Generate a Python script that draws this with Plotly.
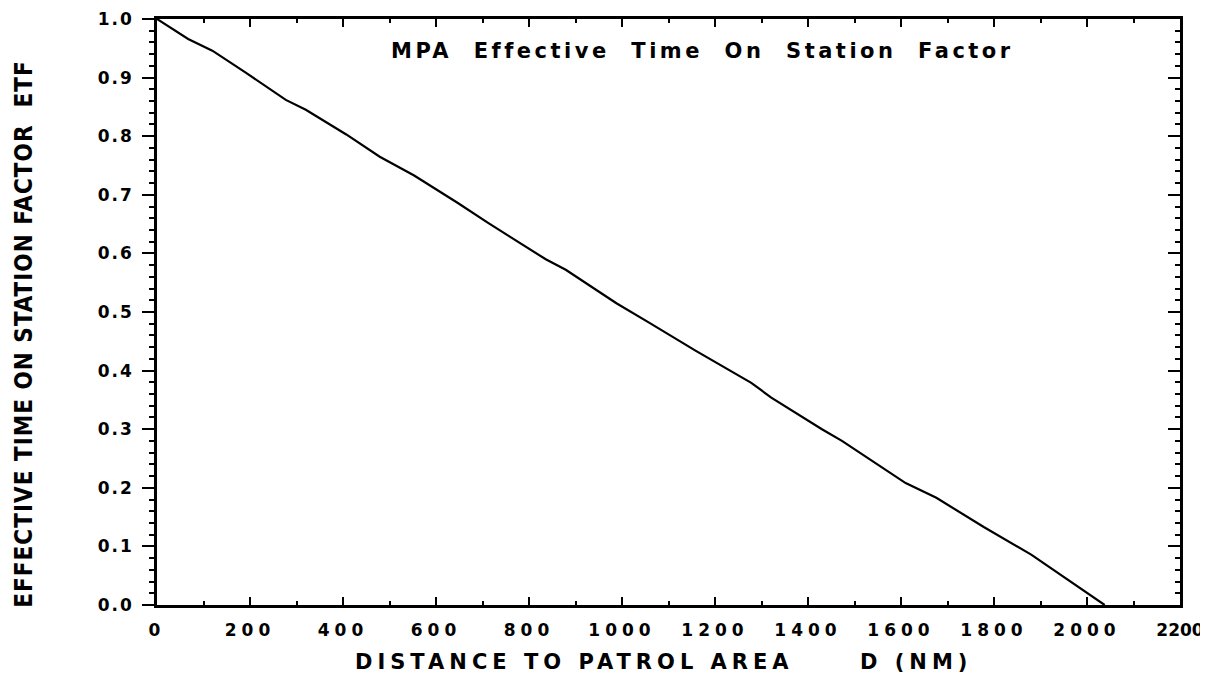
import plotly.graph_objects as go

# Data
distance_nm = [0, 67, 119, 190, 277, 320, 407, 479, 553, 647, 712, 836, 879, 988,
               1060, 1158, 1278, 1321, 1430, 1473, 1610, 1676, 1778, 1843, 1880, 2038]
etf = [1.0, 0.966, 0.946, 0.909, 0.862, 0.845, 0.803, 0.765, 0.733, 0.686, 0.652,
       0.590, 0.572, 0.515, 0.481, 0.434, 0.379, 0.354, 0.300, 0.280, 0.208, 0.183,
       0.133, 0.103, 0.086, 0.0]

x_tick_vals = [0, 200, 400, 600, 800, 1000, 1200, 1400, 1600, 1800, 2000, 2200]
x_tick_labels = ["0", "200", "400", "600", "800", "1000", "1200", "1400", "1600", "1800", "2000", "2200"]
y_tick_vals = [0.0, 0.1, 0.2, 0.3, 0.4, 0.5, 0.6, 0.7, 0.8, 0.9, 1.0]
y_tick_labels = ["0.0", "0.1", "0.2", "0.3", "0.4", "0.5", "0.6", "0.7", "0.8", "0.9", "1.0"]

title_text = "MPA  Effective  Time  On  Station  Factor"
x_title = "DISTANCE TO PATROL AREA"
x_title_unit = "D (NM)"
y_title = "EFFECTIVE TIME ON STATION FACTOR\u00a0\u00a0ETF"


def spaced(t, px):
    return '<span style="letter-spacing:%spx"><b>%s</b></span>' % (px, t)


# last label sits at the right edge: tighter spacing so it stays inside the page
x_tick_text = [spaced(t, 5) for t in x_tick_labels[:-1]] + [spaced(x_tick_labels[-1], 0)]

fig = go.Figure()
fig.add_trace(go.Scatter(x=distance_nm, y=etf, mode="lines",
                         line=dict(color="black", width=2.2), showlegend=False))

tfont = dict(family="DejaVu Sans", size=17, color="black")

fig.update_layout(
    width=1200, height=671,
    margin=dict(l=149, r=28, t=11, b=74),
    plot_bgcolor="white", paper_bgcolor="white",
    xaxis=dict(range=[0, 2200], tickvals=x_tick_vals, ticktext=x_tick_text,
               ticks="inside", ticklen=8, tickwidth=2, tickcolor="black",
               minor=dict(dtick=100, ticks="inside", ticklen=4, tickwidth=2, tickcolor="black"),
               showline=True, linecolor="black", linewidth=2.5, automargin=False,
               ticklabeloverflow="allow",
               showgrid=False, zeroline=False, tickfont=tfont, ticklabelstandoff=8),
    xaxis2=dict(range=[0, 2200], overlaying="x", side="top", tickvals=x_tick_vals,
                showticklabels=False, ticks="inside", ticklen=8, tickwidth=2, tickcolor="black",
                minor=dict(dtick=100, ticks="inside", ticklen=4, tickwidth=2, tickcolor="black"),
                showline=True, linecolor="black", linewidth=2.5, automargin=False,
                showgrid=False, zeroline=False),
    yaxis=dict(range=[0, 1.0], tickvals=y_tick_vals,
               ticktext=[spaced(t, 2) for t in y_tick_labels],
               ticks="outside", ticklen=12, tickwidth=2, tickcolor="black",
               minor=dict(dtick=0.02, ticks="outside", ticklen=5, tickwidth=1.5, tickcolor="black"),
               showline=True, linecolor="black", linewidth=2.5, automargin=False,
               ticklabeloverflow="allow",
               showgrid=False, zeroline=False, tickfont=tfont, ticklabelstandoff=5),
    yaxis2=dict(range=[0, 1.0], overlaying="y", side="right", tickvals=y_tick_vals,
                showticklabels=False, ticks="inside", ticklen=12, tickwidth=2, tickcolor="black",
                minor=dict(dtick=0.02, ticks="inside", ticklen=5, tickwidth=1.5, tickcolor="black"),
                showline=True, linecolor="black", linewidth=2.5, automargin=False,
                showgrid=False, zeroline=False),
)

# invisible trace to activate mirrored axes
fig.add_trace(go.Scatter(x=[None], y=[None], xaxis="x2", yaxis="y2", showlegend=False,
                         hoverinfo="skip"))

fig.add_annotation(text=spaced(title_text, 3.5), xref="paper", yref="paper", x=0.533, y=0.945,
                   showarrow=False, font=dict(family="DejaVu Sans", size=21, color="black"),
                   xanchor="center", yanchor="middle")
fig.add_annotation(text=spaced(x_title, 5), xref="paper", yref="paper", x=0.192, y=-0.098,
                   showarrow=False, font=dict(family="DejaVu Sans", size=21, color="black"),
                   xanchor="left", yanchor="middle")
fig.add_annotation(text=spaced(x_title_unit, 5), xref="paper", yref="paper", x=0.685, y=-0.098,
                   showarrow=False, font=dict(family="DejaVu Sans", size=21, color="black"),
                   xanchor="left", yanchor="middle")
fig.add_annotation(text=spaced(y_title, 1), xref="paper", yref="paper", x=-0.130, y=0.463,
                   showarrow=False, textangle=-90,
                   font=dict(family="Liberation Sans Narrow, DejaVu Sans Condensed", size=24, color="black"),
                   xanchor="center", yanchor="middle")

fig.write_html("out.html")
